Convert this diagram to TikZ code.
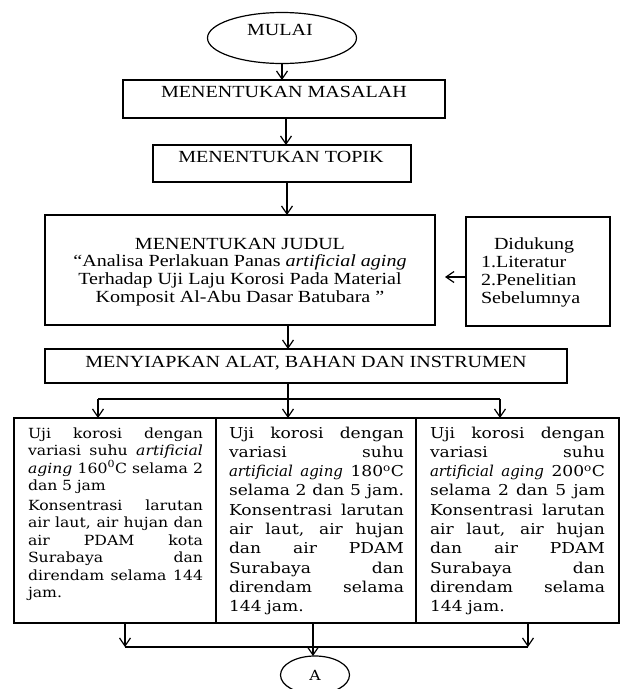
\documentclass[tikz,border=0pt]{standalone}
\usepackage{fontspec}
\setmainfont{Liberation Serif}[FakeStretch=1.18]
\newfontfamily\boxfont{DejaVu Serif}[FakeStretch=1.12]
\newfontfamily\boxfontB{DejaVu Serif}[FakeStretch=1.14]
\newfontfamily\boxit{DejaVu Serif}
\usetikzlibrary{arrows.meta,shapes.geometric,calc}
\newcommand{\JustLine}[1]{\makebox[175pt][s]{\spaceskip=0.25em plus 1fil\relax #1}}
\newcommand{\ItBox}[1]{{\boxit\itshape #1}}
\newcommand{\FirstStrut}{\rule{0pt}{13pt}}
\begin{document}
\begin{tikzpicture}[x=1pt,y=-1pt,
  every node/.style={inner sep=0pt, outer sep=0pt},
  box/.style={draw, line width=1.2pt, rectangle},
  oval/.style={draw, line width=1.2pt, ellipse},
  arr/.style={line width=1.2pt, -{Straight Barb[length=8pt,width=11pt]}},
  ln/.style={line width=1.2pt},
  toptext/.style={font=\fontsize{17}{17.7}\selectfont},
  bottext/.style={align=left, text width=175pt, anchor=north west},
]
\useasboundingbox (0,0) rectangle (620,689);
\fill[white] (0,0) rectangle (620,689);
\clip (0,0) rectangle (620,689);

% top flow
\node[oval, minimum width=149, minimum height=51] (mulai) at (282,38) {};
\node[toptext, anchor=base] (mulaiT) at (280,35) {MULAI};

\node[box, minimum width=322, minimum height=38] (masalah) at (284,99) {};
\node[toptext, anchor=base] (masalahT) at (284,97) {MENENTUKAN MASALAH};

\node[box, minimum width=258, minimum height=37] (topik) at (282,163.5) {};
\node[toptext, anchor=base] (topikT) at (281,162) {MENENTUKAN TOPIK};

\node[box, minimum width=390, minimum height=110] (judul) at (240,270) {};
\node[toptext, align=center, anchor=north] (judulT) at (240,236)
  {\FirstStrut MENENTUKAN JUDUL\\
   “Analisa Perlakuan Panas \textit{artificial aging}\\
   Terhadap Uji Laju Korosi Pada Material\\
   Komposit Al-Abu Dasar Batubara ”};

\node[box, minimum width=144, minimum height=109] (dd) at (538,271.5) {};
\node[font=\fontsize{17}{18.2}\selectfont, align=left, anchor=north west] (ddT) at (481,236)
  {\FirstStrut\hspace*{13pt}Didukung\\
   1.Literatur\\
   2.Penelitian\\
   Sebelumnya};

\node[box, minimum width=522, minimum height=34] (siap) at (306,366) {};
\node[toptext, anchor=base] (siapT) at (306,367) {MENYIAPKAN ALAT, BAHAN DAN INSTRUMEN};

% bottom boxes
\node[box, minimum width=202, minimum height=205] (b1) at (115,520.5) {};
\node[box, minimum width=200, minimum height=205] (b2) at (316,520.5) {};
\node[box, minimum width=203, minimum height=205] (b3) at (517.5,520.5) {};

\node[bottext, font=\boxfont\fontsize{14}{17.5}\selectfont] (t1) at (28,425)
  {\FirstStrut\JustLine{Uji korosi dengan}\\
   \JustLine{variasi suhu \textit{artificial}}\\
   \JustLine{\textit{aging} 160\textsuperscript{0}C selama 2}\\
   dan 5 jam\\[2pt]
   \JustLine{Konsentrasi larutan}\\
   \JustLine{air laut, air hujan dan}\\
   \JustLine{air PDAM kota}\\
   \JustLine{Surabaya dan}\\
   \JustLine{direndam selama 144}\\
   jam.};

\node[bottext, font=\boxfontB\fontsize{15}{19.3}\selectfont] (t2) at (229,425)
  {\FirstStrut\JustLine{Uji korosi dengan}\\
   \JustLine{variasi suhu}\\
   \JustLine{\ItBox{artificial aging} 180\textsuperscript{o}C}\\
   \JustLine{selama 2 dan 5 jam.}\\
   \JustLine{Konsentrasi larutan}\\
   \JustLine{air laut, air hujan}\\
   \JustLine{dan air PDAM}\\
   \JustLine{Surabaya dan}\\
   \JustLine{direndam selama}\\
   144 jam.};

\node[bottext, font=\boxfontB\fontsize{15}{19.3}\selectfont] (t3) at (430,425)
  {\FirstStrut\JustLine{Uji korosi dengan}\\
   \JustLine{variasi suhu}\\
   \JustLine{\ItBox{artificial aging} 200\textsuperscript{o}C}\\
   \JustLine{selama 2 dan 5 jam}\\
   \JustLine{Konsentrasi larutan}\\
   \JustLine{air laut, air hujan}\\
   \JustLine{dan air PDAM}\\
   \JustLine{Surabaya dan}\\
   \JustLine{direndam selama}\\
   144 jam.};

\node[oval, minimum width=69, minimum height=38, font=\boxfont\fontsize{14}{14}\selectfont] (A) at (315,675) {A};

% connectors
\draw[arr] (mulai.south) -- (mulai.south |- masalah.north);
\coordinate (p1) at ($(masalah.south)+(2,0)$);
\draw[arr] (p1) -- (p1 |- topik.north);
\coordinate (p2) at ($(topik.south)+(5,0)$);
\draw[arr] (p2) -- (p2 |- judul.north);
\coordinate (dA) at ($(dd.west)+(0,5.5)$);
\coordinate (dB) at ($(judul.east)+(10,7)$);
\draw[arr] (dA) -- (dB);
\coordinate (p3) at ($(judul.south)+(48,0)$);
\draw[arr] (p3) -- (p3 |- siap.north);

\coordinate (p4) at ($(siap.south)+(-18,0)$);
\coordinate (sL) at ($(b1.north)+(-17,-19)$);
\coordinate (sR) at ($(b3.north)+(-17.5,-19)$);
\coordinate (split) at (p4 |- sL);
\draw[ln] (p4) -- (split);
\draw[ln] (sL) -- (sR);
\draw[arr] (sL) -- (sL |- b1.north);
\draw[arr] (split) -- (split |- b2.north);
\draw[arr] (sR) -- (sR |- b3.north);

\coordinate (q1) at ($(b1.south)+(10,0)$);
\coordinate (q3) at ($(b3.south)+(10.5,0)$);
\coordinate (q2) at ($(b2.south)+(-3,0)$);
\coordinate (jL) at ($(q1)+(0,24)$);
\coordinate (jR) at (q3 |- jL);
\draw[arr] (q1) -- (jL);
\draw[arr] (q3) -- (jR);
\draw[ln] (jL) -- (jR);
\draw[arr] (q2) -- (q2 |- A.north);
\end{tikzpicture}
\end{document}
